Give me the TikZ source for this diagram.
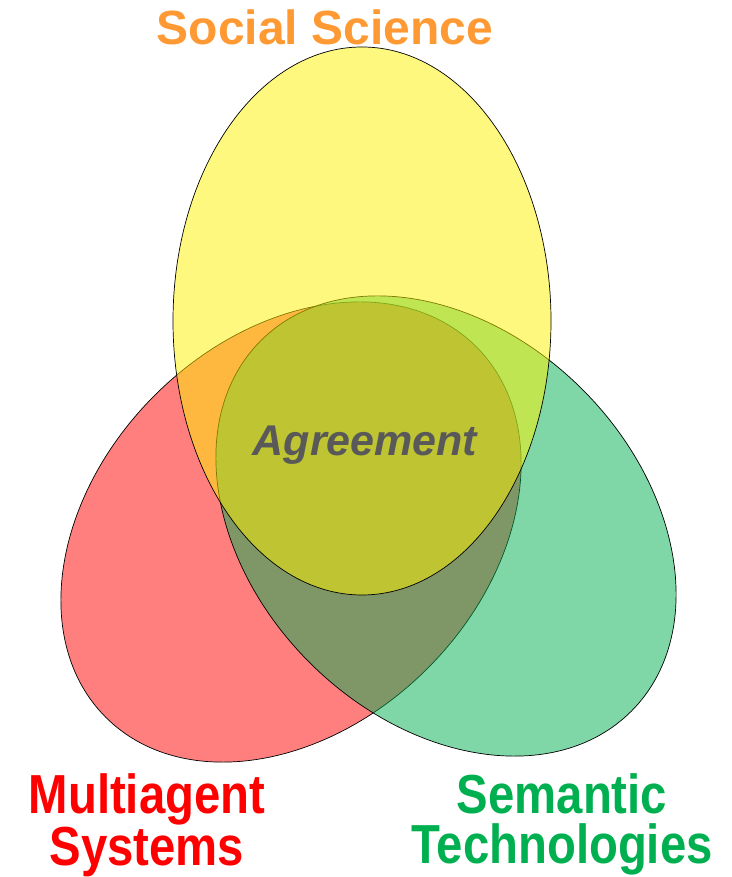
\documentclass[tikz,border=0pt]{standalone}
\usepackage{fontspec}
\setmainfont{Liberation Sans}
\newfontfamily\narrowfont[FakeStretch=0.86]{Liberation Sans}

\definecolor{socialorange}{RGB}{255,153,51}
\definecolor{masred}{RGB}{255,0,0}
\definecolor{semgreen}{RGB}{0,176,80}
\definecolor{agreegray}{RGB}{89,89,89}

\begin{document}
\begin{tikzpicture}[x=1pt, y=1pt,
        set/.style = {draw=black, line width=0.7pt, fill opacity=0.5},
        title/.style = {font=\bfseries\fontsize{48}{48}\selectfont, anchor=base, inner sep=0pt},
        bottom/.style = {font=\narrowfont\bfseries\fontsize{55}{50}\selectfont, align=center, anchor=base, inner sep=0pt}]
        \useasboundingbox (0, 0) rectangle (731, 877);

        % the three fields
        \draw[set, fill=masred] (291, 345) ellipse [x radius=262, y radius=193, rotate=45];
        \draw[set, fill=semgreen] (446, 351) ellipse [x radius=262, y radius=193, rotate=-45];
        \draw[set, fill=yellow] (362, 556) ellipse [x radius=189, y radius=274];

        % labels
        \node[title, text=socialorange] (social) at (325, 832) {Social Science};
        \node[title, text=agreegray, font=\bfseries\itshape\fontsize{43}{43}\selectfont] (agree) at (365, 421) {Agreement};
        \node[bottom, text=masred] (mas) at (147, 12) {Multiagent\\Systems};
        \node[bottom, text=semgreen] (sem) at (562, 13) {Semantic\\Technologies};
    \end{tikzpicture}
\end{document}
